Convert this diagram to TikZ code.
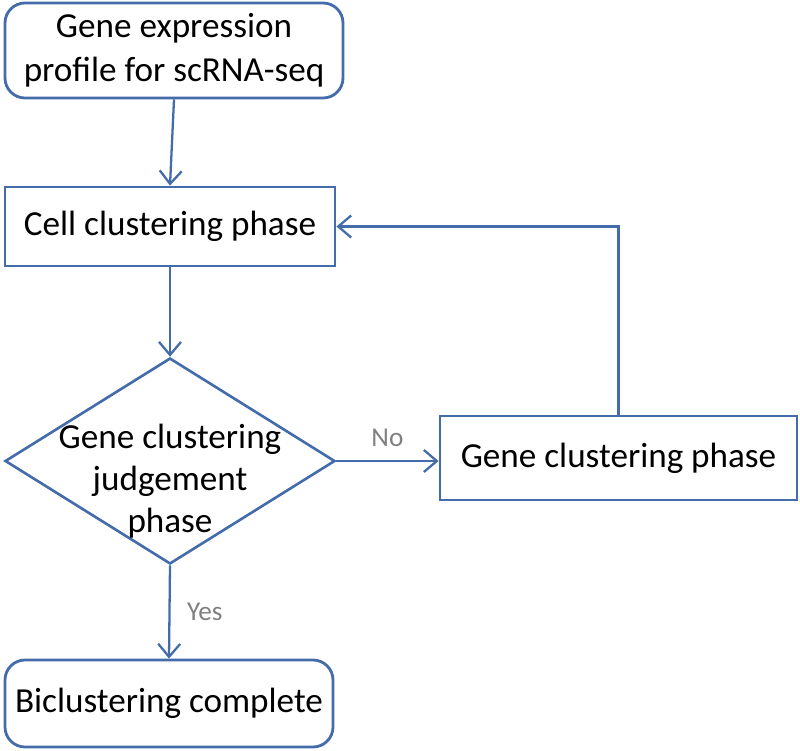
\documentclass[tikz,border=0pt]{standalone}
\usepackage{fontspec}
\setmainfont{Carlito}
\usetikzlibrary{
  arrows.meta,
  shapes.geometric
}
\definecolor{flowblue}{RGB}{68,108,170}
\definecolor{labelgray}{RGB}{128,128,128}

\begin{document}
\begin{tikzpicture}[
  >={Straight Barb[length=2.6mm,width=4.4mm]},
  every node/.style={font=\fontsize{20}{25}\selectfont},
  startbox/.style={draw=flowblue,line width=1.6pt,rounded corners=0.4cm,
    align=center,inner sep=0pt},
  phasebox/.style={draw=flowblue,line width=1.6pt,inner sep=0pt},
  decision/.style={draw=flowblue,line width=1.5pt,diamond,inner sep=0pt,
    minimum width=6.6cm,minimum height=4.12cm},
  flow/.style={->,flowblue,line width=1.3pt},
  branch/.style={text=labelgray,font=\fontsize{15.5}{18}\selectfont}
]

\useasboundingbox (0,0) rectangle (16,15);

%--------------------
% 処理の流れ
%--------------------
% 入力
\node[startbox,minimum width=6.76cm,minimum height=1.90cm]
  (expr) at (3.48,13.99)
  {Gene expression\\profile for scRNA-seq};

% 細胞クラスタリング
\node[phasebox,minimum width=6.60cm,minimum height=1.58cm]
  (cell) at (3.40,10.47) {Cell clustering phase};

% 判定
\node[decision] (judge) at (3.40,5.78) {};
\node[align=center,font=\fontsize{20}{24}\selectfont] (judgetext)
  at ([yshift=-0.4cm]judge.center)
  {Gene clustering\\judgement\\phase};

% 遺伝子クラスタリング
\node[phasebox,minimum width=7.14cm,minimum height=1.68cm]
  (gene) at (12.37,5.84) {Gene clustering phase};

% 終了
\node[startbox,minimum width=6.56cm,minimum height=1.74cm]
  (done) at (3.38,0.93) {Biclustering complete};

%--------------------
% 矢印
%--------------------
\draw[flow] (expr.south) -- (cell.north);
\draw[flow] (cell.south) -- (judge.north);

\draw[flow] (judge.east) -- node[branch,above=4pt] {No}
  (judge.east -| gene.west);

\draw[flow] (judge.south) -- node[branch,right=6pt] {Yes}
  (done.north);

% 戻り
\draw[flow] (gene.north) |- (cell.east);

\end{tikzpicture}
\end{document}
